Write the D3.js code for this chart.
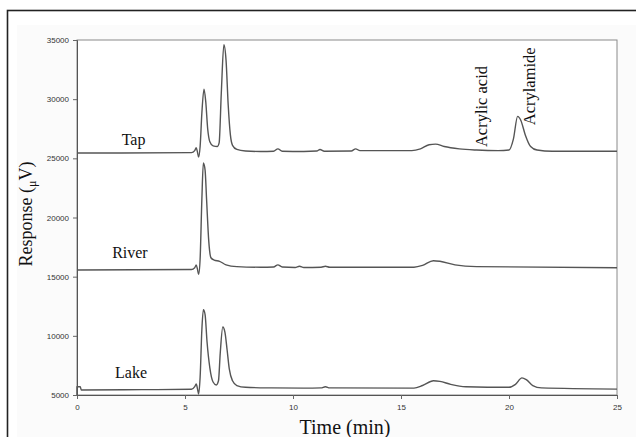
<!DOCTYPE html>
<html>
<head>
<meta charset="utf-8">
<script src="https://cdn.jsdelivr.net/npm/d3@7"></script>
<style>
  body { margin: 0; background: #fff; }
  svg { display: block; }
</style>
</head>
<body>
<div id="chart"></div>
<script>
// chromatogram traces: [time (min), response (uV)]
const tapTrace = [[0,25450],[2,25450],[5.3,25480],[5.45,25650],[5.52,25900],[5.58,25500],[5.63,25100],[5.7,26000],[5.78,28800],[5.88,30850],[5.96,29800],[6.05,27500],[6.15,26400],[6.3,26050],[6.5,26000],[6.58,26300],[6.68,30500],[6.8,34600],[6.9,33300],[7.0,29500],[7.1,27000],[7.2,26100],[7.4,25750],[7.8,25620],[8.5,25580],[9.1,25600],[9.3,25800],[9.5,25600],[10.5,25580],[11.1,25620],[11.25,25750],[11.45,25600],[12.7,25620],[12.9,25800],[13.1,25650],[15.5,25650],[15.9,25800],[16.3,26150],[16.6,26200],[17,26000],[17.7,25800],[18.5,25700],[19.5,25650],[20.0,25700],[20.2,26600],[20.4,28550],[20.55,28200],[20.75,27000],[21,26000],[21.3,25700],[22,25600],[25,25600]];
const riverTrace = [[0,15560],[5.3,15600],[5.45,15750],[5.52,16000],[5.58,15600],[5.63,15200],[5.7,16500],[5.78,21500],[5.85,24600],[5.93,24000],[6.0,21500],[6.1,18000],[6.2,16600],[6.35,16400],[6.6,16300],[6.9,16000],[7.4,15850],[8.5,15800],[9.1,15820],[9.3,16000],[9.5,15820],[10.1,15780],[10.3,15880],[10.5,15780],[11.3,15800],[11.5,15880],[11.7,15800],[15.6,15800],[16.0,15950],[16.5,16350],[16.8,16300],[17.5,16000],[18.5,15850],[25,15750]];
const lakeTrace = [[0,5000],[0,5700],[0.15,5700],[0.2,5420],[3,5450],[5.3,5480],[5.45,5700],[5.52,5930],[5.58,5500],[5.63,5080],[5.7,6500],[5.78,10500],[5.85,12200],[5.93,11800],[6.02,9500],[6.15,7300],[6.3,6100],[6.45,5850],[6.55,6200],[6.63,8500],[6.75,10750],[6.85,10300],[6.95,8800],[7.05,7200],[7.2,6200],[7.4,5800],[7.8,5650],[9,5600],[10.5,5580],[11.3,5600],[11.5,5700],[11.7,5600],[15.6,5580],[16.0,5800],[16.5,6200],[16.8,6150],[17.3,5900],[18,5700],[20,5650],[20.3,5900],[20.6,6450],[20.8,6300],[21.1,5800],[21.5,5600],[25,5500]];

const sampleNames = ["Tap", "River", "Lake"];
const sampleLabelAt = [[2.62, 26150], [2.45, 16600], [2.5, 6400]];
const peakNames = ["Acrylic acid", "Acrylamide"];
const peakLabelAt = [[18.98, 25950], [21.2, 27800]];

const xTicks = [0, 5, 10, 15, 20, 25];
const yTicks = [5000, 10000, 15000, 20000, 25000, 30000, 35000];

const width = 636, height = 437;
const margin = {top: 40, right: 19, bottom: 42, left: 77};

const svg = d3.select("#chart").append("svg")
  .attr("width", width)
  .attr("height", height);

// scanned page look
svg.append("rect").attr("x", 17).attr("y", 25).attr("width", 620).attr("height", 413).attr("fill", "#fbfbfb");
svg.append("rect").attr("x", 7.5).attr("y", 10.5).attr("width", 640).attr("height", 440)
  .attr("fill", "none").attr("stroke", "#222").attr("stroke-width", 1.6);

const x = d3.scaleLinear().domain([0, 25]).range([margin.left, width - margin.right]);
const y = d3.scaleLinear().domain([5000, 35000]).range([height - margin.bottom, margin.top]);

// frame
svg.append("rect")
  .attr("x", x(0)).attr("y", y(35000))
  .attr("width", x(25) - x(0)).attr("height", y(5000) - y(35000))
  .attr("fill", "#fff").attr("stroke", "#8a8a8a").attr("stroke-width", 1);

// label boxes
const labelGroup = svg.append("g");
sampleNames.forEach((name, i) => {
  labelGroup.append("rect")
    .attr("x", x(sampleLabelAt[i][0]) - 48).attr("y", y(sampleLabelAt[i][1]) - 16)
    .attr("width", 96).attr("height", 24).attr("fill", "#fff");
});

const xAxis = svg.append("g")
  .attr("transform", `translate(0,${y(5000)})`)
  .call(d3.axisBottom(x).tickValues(xTicks).tickSize(4).tickPadding(5));
const yAxis = svg.append("g")
  .attr("transform", `translate(${x(0)},0)`)
  .call(d3.axisLeft(y).tickValues(yTicks).tickSize(4).tickPadding(4).tickFormat(d3.format("d")));

[xAxis, yAxis].forEach(a => {
  a.selectAll("path").attr("stroke", "#555");
  a.selectAll("line").attr("stroke", "#666");
  a.selectAll("text")
    .attr("fill", "#333")
    .style("font-family", "'Liberation Sans', Arial, sans-serif")
    .style("font-size", "8px");
});

const line = d3.line()
  .x(d => x(d[0]))
  .y(d => y(d[1]))
  .curve(d3.curveMonotoneX);

svg.append("g")
  .selectAll("path")
  .data([tapTrace, riverTrace, lakeTrace]).enter()
  .append("path")
  .attr("d", line)
  .attr("fill", "none")
  .attr("stroke", "#555")
  .attr("stroke-width", 1.4)
  .attr("stroke-linejoin", "round");

const serif = "'Liberation Serif', 'Times New Roman', serif";

labelGroup.selectAll("text")
  .data(sampleNames).enter()
  .append("text")
  .attr("x", (d, i) => x(sampleLabelAt[i][0]))
  .attr("y", (d, i) => y(sampleLabelAt[i][1]))
  .attr("text-anchor", "middle")
  .style("font-family", serif)
  .style("font-size", "16px")
  .attr("fill", "#111")
  .text(d => d);

svg.append("g")
  .selectAll("text")
  .data(peakNames).enter()
  .append("text")
  .attr("transform", (d, i) => `translate(${x(peakLabelAt[i][0])},${y(peakLabelAt[i][1])}) rotate(-90)`)
  .style("font-family", serif)
  .style("font-size", "16.5px")
  .attr("fill", "#111")
  .text(d => d);

// axis titles
const yTitle = svg.append("text")
  .attr("transform", `translate(32,214) rotate(-90)`)
  .attr("text-anchor", "middle")
  .style("font-family", serif)
  .style("font-size", "18px")
  .attr("fill", "#111");
yTitle.append("tspan").text("Response (");
yTitle.append("tspan").attr("dy", 4).style("font-size", "12px").text("μ");
yTitle.append("tspan").attr("dy", -4).text("V)");

svg.append("text")
  .attr("x", 345).attr("y", 434)
  .attr("text-anchor", "middle")
  .style("font-family", serif)
  .style("font-size", "20px")
  .attr("fill", "#111")
  .text("Time (min)");
</script>
</body>
</html>
